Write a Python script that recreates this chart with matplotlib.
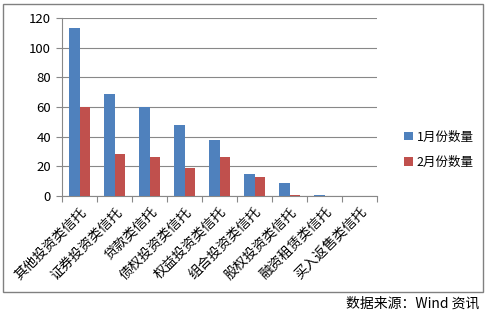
import matplotlib
matplotlib.use("Agg")
import matplotlib.pyplot as plt
from matplotlib.patches import Rectangle
import numpy as np

plt.rcParams['font.family'] = ['Noto Sans CJK SC', 'DejaVu Sans']

categories = ["其他投资类信托", "证券投资类信托", "贷款类信托", "债权投资类信托", "权益投资类信托",
              "组合投资类信托", "股权投资类信托", "融资租赁类信托", "买入返售类信托"]
jan = [113, 69, 60, 48, 38, 15, 9, 1, 0]
feb = [60, 28, 26, 19, 26, 13, 1, 0, 0]
series_names = ["1月份数量", "2月份数量"]

W, H = 490, 315
fig = plt.figure(figsize=(4.9, 3.15), dpi=100)
fig.patch.set_facecolor("white")

# outer frame
fig.patches.append(Rectangle((3 / W, 1 - 292 / H), 480 / W, 288 / H, transform=fig.transFigure,
                             fill=False, edgecolor="#808080", linewidth=1.0))

ax = fig.add_axes([62 / W, 1 - 196 / H, (377 - 62) / W, (196 - 18) / H])
x = np.arange(len(categories))
w = 0.29
ax.bar(x - w / 2, jan, width=w, color="#4F81BD", label=series_names[0], zorder=3)
ax.bar(x + w / 2, feb, width=w, color="#C0504D", label=series_names[1], zorder=3)

ax.set_xlim(-0.5, len(categories) - 0.5)
ax.set_ylim(0, 120)
ax.set_yticks(range(0, 121, 20))
ax.yaxis.grid(True, color="#888888", linewidth=0.8, zorder=0)
for s in ["top", "right"]:
    ax.spines[s].set_visible(False)
ax.spines["left"].set_color("#888888")
ax.spines["bottom"].set_color("#888888")
ax.tick_params(axis="y", length=4, color="#888888", labelsize=9.5, pad=4)
ax.set_xticks(np.arange(-0.5, len(categories), 1.0), minor=False)
ax.set_xticklabels([])
ax.set_xticks(x, minor=True)
ax.set_xticklabels(categories, minor=True, rotation=45, ha="right", va="top",
                   rotation_mode="anchor", fontsize=9.8)
ax.tick_params(axis="x", which="major", length=4, color="#888888")
ax.tick_params(axis="x", which="minor", length=0, pad=6)

leg = ax.legend(loc="center left", bbox_to_anchor=(1.05, 0.26), frameon=False,
                fontsize=9, handlelength=0.7, handleheight=0.7, handletextpad=0.3,
                labelspacing=1.0)

fig.text(479 / W, 1 - 304 / H, "数据来源：Wind 资讯", ha="right", va="center", fontsize=10)

fig.savefig("out.png", dpi=100, facecolor="white")
